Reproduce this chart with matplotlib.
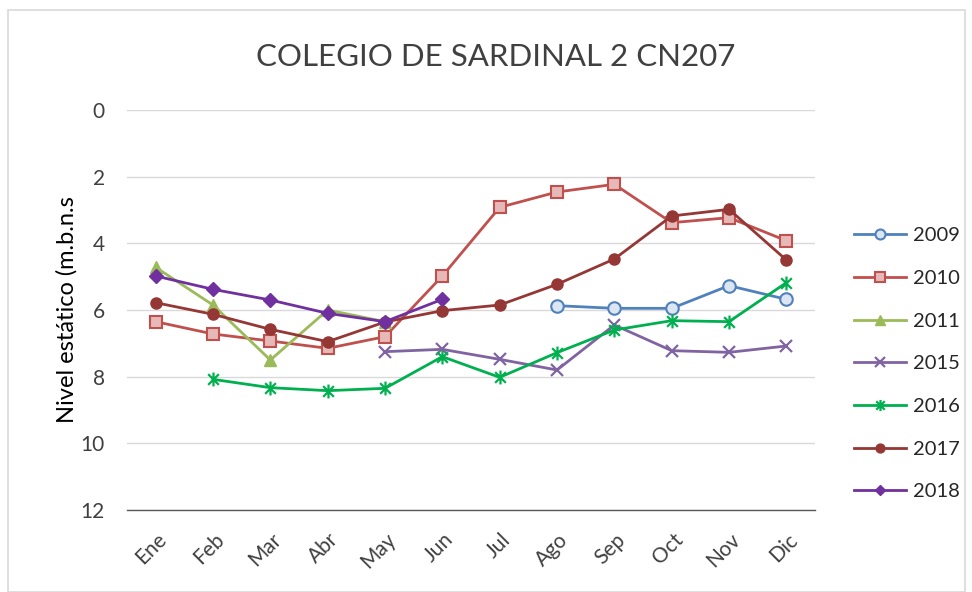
import matplotlib
matplotlib.use("Agg")
import matplotlib.pyplot as plt
import numpy as np
from matplotlib.path import Path
from matplotlib.patches import Rectangle

plt.rcParams['font.family'] = ['Lato', 'DejaVu Sans']

months = ["Ene", "Feb", "Mar", "Abr", "May", "Jun", "Jul", "Ago", "Sep", "Oct", "Nov", "Dic"]
nan = np.nan
s2009 = [nan, nan, nan, nan, nan, nan, nan, 5.87, 5.95, 5.95, 5.27, 5.68]
s2010 = [6.35, 6.72, 6.93, 7.15, 6.8, 4.98, 2.92, 2.46, 2.23, 3.38, 3.23, 3.92]
s2011 = [4.72, 5.85, 7.5, 6.0, 6.35, nan, nan, nan, nan, nan, nan, nan]
s2015 = [nan, nan, nan, nan, 7.25, 7.18, 7.48, 7.8, 6.45, 7.22, 7.27, 7.08]
s2016 = [nan, 8.08, 8.33, 8.42, 8.35, 7.4, 8.02, 7.28, 6.6, 6.32, 6.35, 5.18]
s2017 = [5.78, 6.13, 6.58, 6.95, 6.36, 6.02, 5.85, 5.23, 4.47, 3.18, 2.98, 4.5]
s2018 = [4.98, 5.38, 5.7, 6.1, 6.35, 5.68, nan, nan, nan, nan, nan, nan]
yticks = [0, 2, 4, 6, 8, 10, 12]

title = "COLEGIO DE SARDINAL 2 CN207"
ylabel = "Nivel estático (m.b.n.s"

star = Path([(-1, -1), (1, 1), (-1, 1), (1, -1), (0, -1.3), (0, 1.3)],
            [Path.MOVETO, Path.LINETO, Path.MOVETO, Path.LINETO, Path.MOVETO, Path.LINETO])

fig = plt.figure(figsize=(9.72, 5.92), dpi=100)
fig.patches.append(Rectangle((8/972, 0.0), 957/972, 1 - 10/592, transform=fig.transFigure,
                             fill=False, edgecolor='#D9D9D9', lw=1.2))
ax = fig.add_axes([127/972, 1 - 510/592, 688/972, 400/592])
x = np.arange(len(months))

series = [
    ("2009", s2009, dict(color='#4F81BD', marker='o', ms=9, mfc='#DCE6F2', mec='#4F81BD', mew=1.5)),
    ("2010", s2010, dict(color='#C0504D', marker='s', ms=9, mfc='#E6B9B8', mec='#C0504D', mew=1.5)),
    ("2011", s2011, dict(color='#9BBB59', marker='^', ms=9, mfc='#9BBB59', mec='#9BBB59', mew=1)),
    ("2015", s2015, dict(color='#8064A2', marker='x', ms=9, mec='#8064A2', mew=1.6)),
    ("2016", s2016, dict(color='#00B050', marker=star, ms=10, mec='#00B050', mew=1.6)),
    ("2017", s2017, dict(color='#953735', marker='o', ms=8, mfc='#953735', mec='#953735')),
    ("2018", s2018, dict(color='#7030A0', marker='D', ms=7, mfc='#7030A0', mec='#7030A0')),
]
handles = []
for label, vals, kw in series:
    h, = ax.plot(x, vals, lw=2, label=label, **kw)
    handles.append(h)

ax.set_xlim(-0.5, len(months) - 0.5)
ax.set_ylim(12, 0)
ax.set_yticks(yticks)
ax.set_xticks(x)
ax.set_xticklabels(months, rotation=45, ha='right', rotation_mode='anchor', fontsize=15, color='#404040')
ax.tick_params(axis='x', length=0, pad=14)
ax.tick_params(axis='y', length=0, pad=16, labelsize=15, labelcolor='#404040')
for t in ax.get_xticklabels():
    t.set_transform(t.get_transform() + matplotlib.transforms.ScaledTranslation(1/100, 0, fig.dpi_scale_trans))
ax.grid(axis='y', color='#D9D9D9', lw=1)
ax.set_axisbelow(True)
for s in ['top', 'right', 'left']:
    ax.spines[s].set_visible(False)
ax.spines['bottom'].set_color('#595959')
ax.spines['bottom'].set_linewidth(1)
ax.set_ylabel(ylabel, fontsize=17, color='#000000', labelpad=2)
fig.text(496/972, 1 - 57/592, title, ha='center', va='center', fontsize=22.5, color='#404040')

leg = fig.legend(handles=handles, loc='upper left', bbox_to_anchor=(836/972, 1 - 209/592),
                 frameon=False, fontsize=14.5, labelspacing=1.27, handlelength=2.6,
                 handletextpad=0.3, markerscale=0.8)
for t in leg.get_texts():
    t.set_color('#262626')

fig.savefig("out.png", dpi=100)
